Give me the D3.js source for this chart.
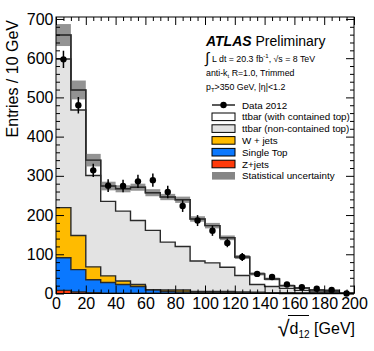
<!DOCTYPE html>
<html><head><meta charset="utf-8">
<script src="https://cdn.jsdelivr.net/npm/d3@7"></script>
<style>
body{margin:0;background:#fff}
text{font-family:"Liberation Sans",Arial,Helvetica,sans-serif;fill:#000}
</style>
</head><body><svg id="c" width="374" height="351"></svg>
<script>
// ---- data ----
const binLow = [0,10,20,30,40,50,60,70,80,90,100,110,120,130,140,150,160,170,180,190];
const binWidth = 10;
const zjets = [8,4,2,1,1,1,1,0.5,0.5,0.5,0.3,0.3,0.3,0.2,0.2,0.1,0.1,0.1,0.1,0];
const singleTop = [83,57,33,27,22,17,8,4.5,3.5,2.5,2.7,2.7,1.7,1.8,1.3,0.9,0.9,0.9,0.4,0.2];
const wjets = [128,87,33,17,9,5,1,4,5,2,2,2,2,1,0.5,1,0.5,1,1.5,0.1];
const ttNonContained = [379,320,233,190,178,163,151,122,111,78,73,62,42,20,16,11,6.5,4,3,0.7];
const ttContained = [61,51,39,39,57,85,96,115,119,107,95,75,47,27,19,7,6,3,3,0];
const statUnc = [28,24,16,11,9,9,9,8,8,7,7,6,5,4,3.5,3,2.5,2,2,1];
const data2012 = [597,480,314,275,274,286,289,259,223,186,160,129,93,50,42,23,16,12,9,0];
const dataErr = [22,21,17,16,16,17,17,16,15,14,13,11,10,7,6.5,5,4,3.5,3,0];
const xTicks = [0,20,40,60,80,100,120,140,160,180,200];
const yTicks = [0,100,200,300,400,500,600,700];

const svg = d3.select("#c");
const x = d3.scaleLinear().domain([0,200]).range([56,354]);
const y = d3.scaleLinear().domain([0,705]).range([293.5,17]);

const keys = ["zjets","stop","wjets","nc","ct"];
const rows = binLow.map((b,i)=>({b, zjets:zjets[i], stop:singleTop[i], wjets:wjets[i], nc:ttNonContained[i], ct:ttContained[i]}));
const stack = d3.stack().keys(keys)(rows);
const colors = {zjets:"#ff3a0a", stop:"#0a78ff", wjets:"#ffbb00", nc:"#e3e3e3", ct:"#ffffff"};

const plot = svg.append("g");
const area = d3.area().curve(d3.curveStepAfter).x(d=>x(d[0])).y0(y(0)).y1(d=>y(d[1]));
const line = d3.line().curve(d3.curveStepAfter).x(d=>x(d[0])).y(d=>y(d[1]));
function pts(layer){
  const p = layer.map((d,i)=>[binLow[i], d[1]]);
  p.push([binLow[binLow.length-1]+binWidth, layer[layer.length-1][1]]);
  return p;
}
const totals = stack[stack.length-1].map(d=>d[1]);
for (let k = stack.length-1; k>=0; k--){
  const layer = stack[k];
  const p = pts(layer);
  plot.append("path").attr("d", area(p)).attr("fill", colors[layer.key]);
  plot.append("path").attr("d", line(p)).attr("fill","none").attr("stroke","#2a2a2a").attr("stroke-width",1.4);
}
// stat uncertainty band
plot.selectAll("rect.band").data(binLow).join("rect")
  .attr("x", d=>x(d)).attr("width", d=>x(d+binWidth)-x(d))
  .attr("y", (d,i)=>y(totals[i]+statUnc[i]))
  .attr("height", (d,i)=>y(totals[i]-statUnc[i])-y(totals[i]+statUnc[i]))
  .attr("fill","#808080").attr("opacity",0.85);
const tp = pts(stack[stack.length-1]);
plot.append("path").attr("d", line(tp)).attr("fill","none").attr("stroke","#2a2a2a").attr("stroke-width",1.4);

// data
const g = plot.append("g");
g.selectAll("line").data(binLow).join("line")
  .attr("x1", d=>x(d+binWidth/2)).attr("x2", d=>x(d+binWidth/2))
  .attr("y1", (d,i)=>y(data2012[i]+dataErr[i])).attr("y2",(d,i)=>y(data2012[i]-dataErr[i]))
  .attr("stroke","#000").attr("stroke-width",1.5);
g.selectAll("circle").data(binLow).join("circle")
  .attr("cx", d=>x(d+binWidth/2)).attr("cy",(d,i)=>y(data2012[i])).attr("r",3.2).attr("fill","#000");

// axes
const fs = 16;
const xMinor = d3.range(0,201,5).filter(v=>v%20!==0);
const yMinor = d3.range(0,701,20).filter(v=>v%100!==0);
function ticks(axisFn, scale, vals, size, tr){
  const a = svg.append("g").attr("transform",tr).call(axisFn(scale).tickValues(vals).tickSize(size).tickFormat(""));
  a.select(".domain").remove();
  a.selectAll("line").attr("stroke","#000");
  return a;
}
ticks(d3.axisBottom, x, xMinor, -4, `translate(0,${y(0)})`);
ticks(d3.axisTop, x, xMinor, -4, `translate(0,${y(705)})`);
ticks(d3.axisTop, x, xTicks, -8, `translate(0,${y(705)})`);
ticks(d3.axisLeft, y, yMinor, -4, `translate(${x(0)},0)`);
ticks(d3.axisRight, y, yMinor, -4, `translate(${x(200)},0)`);
ticks(d3.axisRight, y, yTicks, -8, `translate(${x(200)},0)`);

const xa = svg.append("g").attr("transform",`translate(0,${y(0)})`)
  .call(d3.axisBottom(x).tickValues(xTicks).tickSize(-8).tickPadding(4).tickFormat(d3.format("d")));
xa.select(".domain").remove();
xa.selectAll("line").attr("stroke","#000");
xa.selectAll("text").attr("font-size",fs).attr("font-family",null);
const ya = svg.append("g").attr("transform",`translate(${x(0)},0)`)
  .call(d3.axisLeft(y).tickValues(yTicks).tickSize(-8).tickPadding(2.5).tickFormat(d3.format("d")));
ya.select(".domain").remove();
ya.selectAll("line").attr("stroke","#000");
ya.selectAll("text").attr("font-size",fs).attr("font-family",null);

svg.append("rect").attr("x",x(0)).attr("y",y(705)).attr("width",x(200)-x(0)).attr("height",y(0)-y(705))
  .attr("fill","none").attr("stroke","#000").attr("stroke-width",1);

// axis titles
svg.append("text").attr("transform","translate(18,20) rotate(-90)").attr("text-anchor","end")
  .attr("font-size",fs).text("Entries / 10 GeV");
const xt = svg.append("text").attr("x",355).attr("y",334).attr("text-anchor","end").attr("font-size",fs);
xt.append("tspan").text("d");
xt.append("tspan").attr("font-size",10).attr("dy",4).text("12");
xt.append("tspan").attr("dy",-4).text(" [GeV]");
svg.append("text").attr("x",277.5).attr("y",336).attr("font-size",22).text("\u221A");
svg.append("line").attr("x1",288).attr("x2",309).attr("y1",315.5).attr("y2",315.5).attr("stroke","#000").attr("stroke-width",1);

// ATLAS label
const at = svg.append("text").attr("x",206).attr("y",46).attr("font-size",14);
at.append("tspan").attr("font-weight","bold").attr("font-style","italic").text("ATLAS");
at.append("tspan").text(" Preliminary");
svg.append("text").attr("x",205).attr("y",63).attr("font-size",15).text("\u222B");
const l1 = svg.append("text").attr("x",212).attr("y",61.5).attr("font-size",8.8);
l1.append("tspan").text("L dt = 20.3 fb");
l1.append("tspan").attr("font-size",6).attr("dy",-3.5).text("-1");
l1.append("tspan").attr("dy",3.5).text(", \u221As = 8 TeV");
const l2 = svg.append("text").attr("x",206).attr("y",75.5).attr("font-size",8.8);
l2.append("tspan").text("anti-k");
l2.append("tspan").attr("font-size",6).attr("dy",2).text("t");
l2.append("tspan").attr("dy",-2).text(" R=1.0, Trimmed");
const l3 = svg.append("text").attr("x",206).attr("y",90).attr("font-size",8.8);
l3.append("tspan").text("p");
l3.append("tspan").attr("font-size",6).attr("dy",2).text("T");
l3.append("tspan").attr("dy",-2).text(">350 GeV, |\u03B7|<1.2");

// legend
const legItems = [
  {label:"Data 2012", type:"data"},
  {label:"ttbar (with contained top)", fill:colors.ct},
  {label:"ttbar (non-contained top)", fill:colors.nc},
  {label:"W + jets", fill:colors.wjets},
  {label:"Single Top", fill:colors.stop},
  {label:"Z+jets", fill:colors.zjets},
  {label:"Statistical uncertainty", fill:"#868686", band:true}
];
const lg = svg.append("g");
legItems.forEach((d,i)=>{
  const yy = 105 + i*11.8;
  if (d.type==="data"){
    lg.append("line").attr("x1",212).attr("x2",235).attr("y1",yy).attr("y2",yy).attr("stroke","#000").attr("stroke-width",1.3);
    lg.append("circle").attr("cx",223.5).attr("cy",yy).attr("r",3.2).attr("fill","#000");
  } else {
    lg.append("rect").attr("x",212).attr("y",yy-3.8).attr("width",23).attr("height",7.6)
      .attr("fill",d.fill).attr("stroke", d.band?"none":"#000").attr("stroke-width",1);
  }
  lg.append("text").attr("x",242).attr("y",yy+3.5).attr("font-size",9.8).text(d.label);
});
</script>
</body></html>
